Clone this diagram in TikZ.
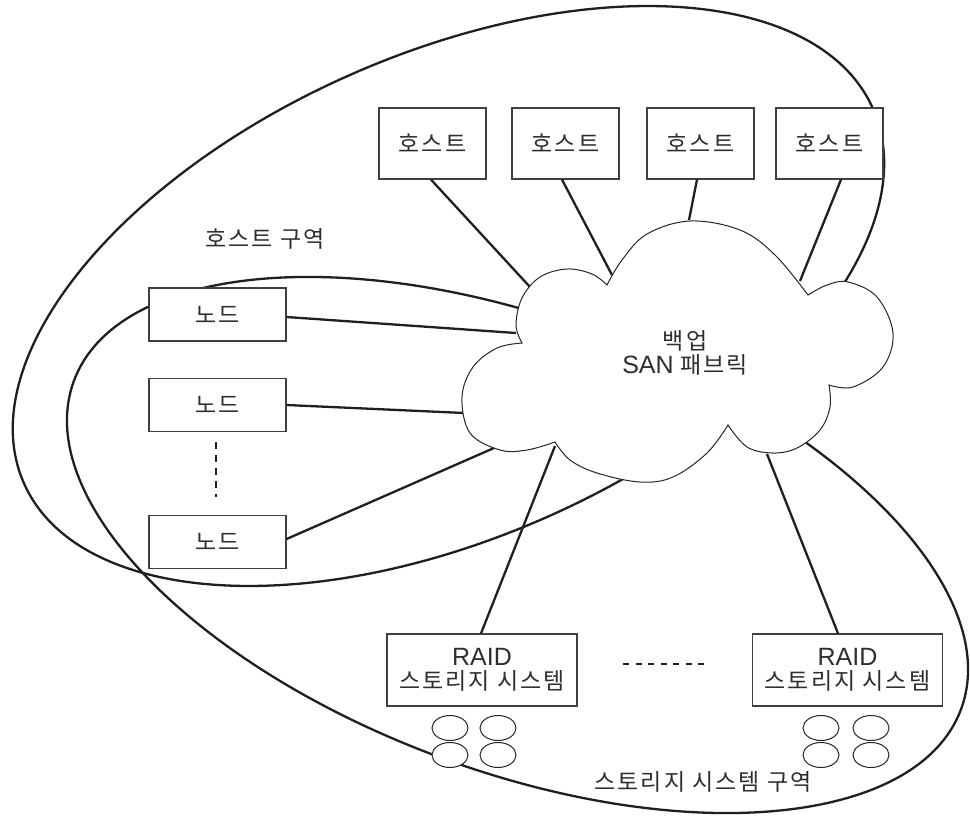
\documentclass[tikz,border=0pt]{standalone}
\usepackage{fontspec}
\setmainfont{Liberation Sans}
\newfontfamily\kr[LetterSpace=9]{Noto Sans CJK KR}
\begin{document}
\begin{tikzpicture}[x=1pt,y=-1pt,
  box/.style={draw=black!75, line width=1.2pt, fill=white, inner sep=0pt, align=center},
  conn/.style={line width=2.3pt, black!88},
  zone/.style={line width=2.3pt, black!88},
  cloudline/.style={line width=1pt, black!85, fill=white},
  lbl/.style={font=\fontsize{23}{27}\selectfont, text=black!82, align=center},
  lat/.style={font=\fontsize{25}{27}\selectfont},
  disk/.style={line width=1pt, black!85, fill=white},
  dots/.style={line width=2.8pt, black!88}]
\useasboundingbox (0,0) rectangle (970,815);

% cloud anchor coordinates
\coordinate (ch1) at (530,287);
\coordinate (ch2) at (612,275);
\coordinate (ch3) at (689,220);
\coordinate (ch4) at (800,281);
\coordinate (cn1) at (516,333);
\coordinate (cn2) at (464,413);
\coordinate (cn3) at (494,448);
\coordinate (cs1) at (555,446);
\coordinate (cs2) at (767,454);

% zones (tilted ellipses, partly hidden by the cloud)
\coordinate (hzc) at (448.5,296);
\coordinate (szc) at (517.5,545);
\draw[zone, rotate around={23.8:(hzc)}] (hzc) ellipse [x radius=464, y radius=242];
\draw[zone, rotate around={-20.3:(szc)}] (szc) ellipse [x radius=473, y radius=226];

% host nodes
\node[box, minimum width=107pt, minimum height=71pt] (h1) at (432.5,143.5) {};
\node[box, minimum width=107pt, minimum height=71pt] (h2) at (565.5,143.5) {};
\node[box, minimum width=107pt, minimum height=71pt] (h3) at (700.5,143.5) {};
\node[box, minimum width=107pt, minimum height=71pt] (h4) at (829.5,143.5) {};
\node[lbl] at (h1) {\kr 호스트};
\node[lbl] at (h2) {\kr 호스트};
\node[lbl] at (h3) {\kr 호스트};
\node[lbl] at (h4) {\kr 호스트};

% nodes
\node[box, minimum width=137pt, minimum height=53pt] (n1) at (217.5,314.5) {};
\node[box, minimum width=137pt, minimum height=53pt] (n2) at (217.5,405) {};
\node[box, minimum width=137pt, minimum height=53pt] (n3) at (217.5,542) {};
\node[lbl] at (n1) {\kr 노드};
\node[lbl] at (n2) {\kr 노드};
\node[lbl] at (n3) {\kr 노드};

% storage
\node[box, minimum width=190pt, minimum height=72pt] (s1) at (482,670) {};
\node[box, minimum width=190pt, minimum height=72pt] (s2) at (847.5,670) {};
\node[lbl] at (s1) {{\fontsize{25}{27}\selectfont RAID}\\[-3pt]{\kr 스토리지 시스템}};
\node[lbl] at (s2) {{\fontsize{25}{27}\selectfont RAID}\\[-3pt]{\kr 스토리지 시스템}};

% connectors
\draw[conn] ([xshift=-1.5pt]h1.south) -- (ch1);
\draw[conn] ([xshift=-3.5pt]h2.south) -- (ch2);
\draw[conn] ([xshift=-3.5pt]h3.south) -- (ch3);
\draw[conn] ([xshift=11.5pt]h4.south) -- (ch4);
\draw[conn] ([yshift=-2.5pt]n1.east) -- (cn1);
\draw[conn] (n2.east) -- (cn2);
\draw[conn] ([yshift=3pt]n3.east) -- (cn3);
\draw[conn] ([xshift=-1pt]s1.north) -- (cs1);
\draw[conn] ([xshift=-9.5pt]s2.north) -- (cs2);

% cloud
\draw[cloudline]
  plot[smooth,tension=0.6] coordinates {(522,343) (516,325) (522,298) (540,277) (567,269) (592,274) (607,285)}
  -- plot[smooth,tension=0.6] coordinates {(607,285) (622,260) (647,234) (690,221) (740,230) (775,255) (808,295)}
  -- plot[smooth,tension=0.6] coordinates {(808,295) (827,285) (848,282) (877,297) (893,333) (883,367) (853,387) (829,385)}
  -- plot[smooth,tension=0.6] coordinates {(829,385) (830,407) (820,430) (797,448) (773,453) (747,447) (728,425)}
  -- plot[smooth,tension=0.6] coordinates {(728,425) (707,453) (673,477) (640,482) (597,473) (570,460) (555,442)}
  -- plot[smooth,tension=0.6] coordinates {(555,442) (527,450) (500,450) (470,433) (462,397) (473,367) (497,348) (522,343)}
  -- cycle;
\node[lbl] (fab) at (685,353) {{\kr 백업}\\[-3pt]{\fontsize{25}{27}\selectfont SAN} {\kr 패브릭}};

% dots
\coordinate (dv1) at (216,442);
\coordinate (dv2) at (216,497);
\draw[dots, dash pattern=on 7pt off 6pt] (dv1) -- (dv2);
\coordinate (dh1) at (623,664);
\coordinate (dh2) at (710,664);
\draw[dots, dash pattern=on 6pt off 6.5pt] (dh1) -- (dh2);

% disks
\foreach \cx in {450,498,821,871}{
  \foreach \cy in {728,755}{
    \draw[disk] (\cx,\cy) ellipse [x radius=18, y radius=12.5];
  }
}

% zone labels
\node[lbl] (hzl) at (265,239) {\kr 호스트 구역};
\node[lbl] (szl) at (703,782) {\kr 스토리지 시스템 구역};
\end{tikzpicture}
\end{document}
